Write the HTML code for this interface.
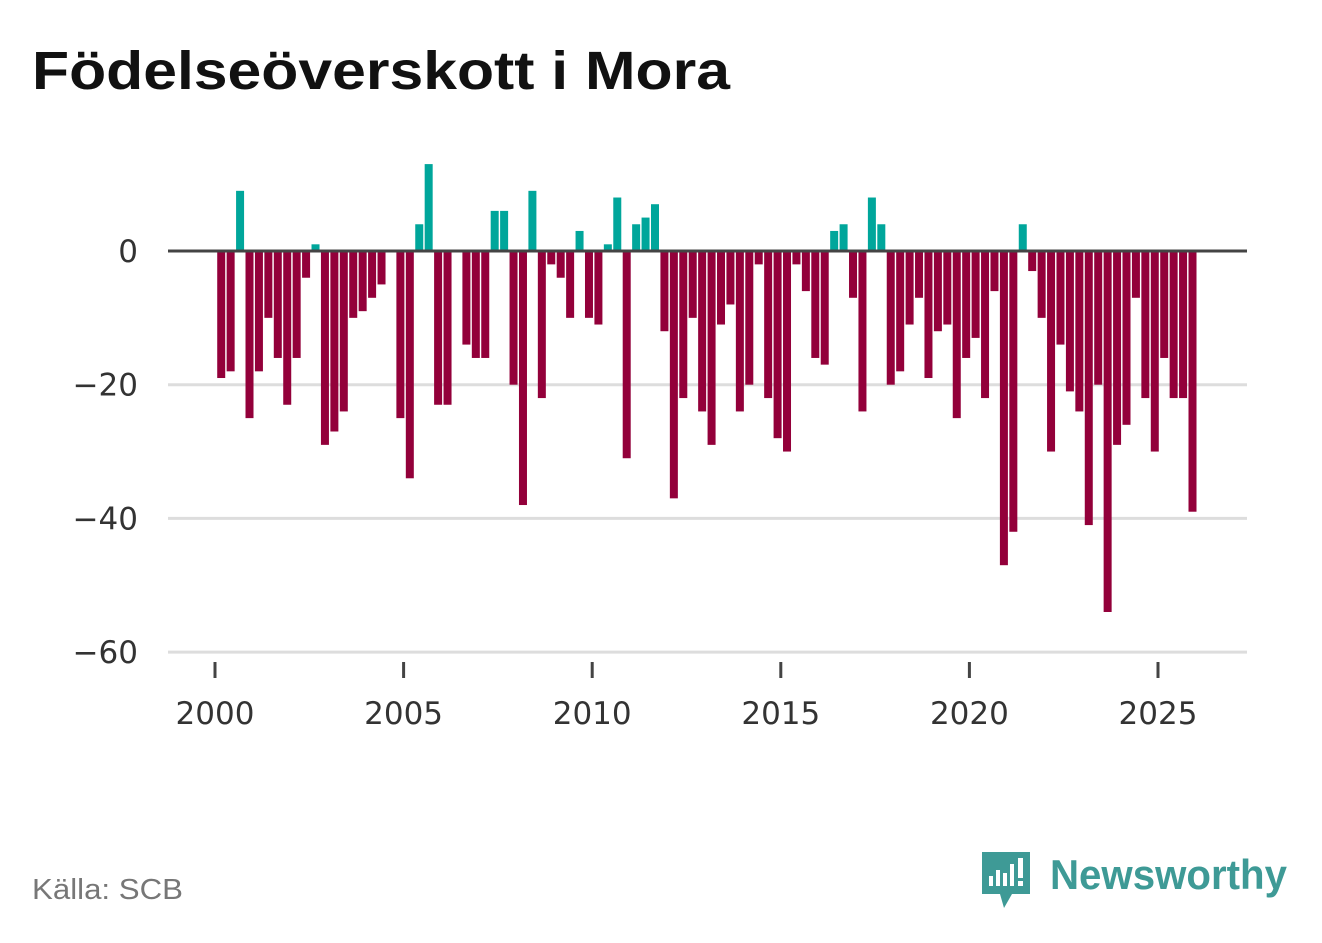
<!DOCTYPE html>
<html><head><meta charset="utf-8"><style>
body{margin:0;background:#fff;width:1322px;height:939px;overflow:hidden;font-family:"DejaVu Sans","Liberation Sans",sans-serif}
</style></head><body>
<svg width="1322" height="939" xmlns="http://www.w3.org/2000/svg">
<text x="32" y="89" font-size="54" font-weight="bold" fill="#111" font-family="Liberation Sans, sans-serif" textLength="698" lengthAdjust="spacingAndGlyphs">Födelseöverskott i Mora</text>
<g id="grid"></g><g id="bars"></g><g id="axes"></g>
<text x="32" y="899" font-size="29" fill="#777" font-family="Liberation Sans, sans-serif" textLength="151" lengthAdjust="spacingAndGlyphs">Källa: SCB</text>
<g>
<path d="M982 852 h48 v42 h-18 l-8 14 l-4 -14 h-18 z" fill="#3e9a96"/>
<rect x="989" y="876" width="4" height="10" fill="#fff"/><rect x="996" y="870" width="4" height="16" fill="#fff"/><rect x="1003" y="873" width="4" height="13" fill="#fff"/><rect x="1010" y="864" width="4" height="22" fill="#fff"/><rect x="1018" y="858" width="5" height="20" fill="#fff"/><rect x="1018" y="881" width="5" height="5" fill="#fff"/>
<text x="1050" y="889" font-size="42" font-weight="bold" fill="#3e9a96" font-family="Liberation Sans, sans-serif" textLength="237" lengthAdjust="spacingAndGlyphs">Newsworthy</text>
</g>
</svg>
<script>
const startYear = 2000;
const values = [-19,-18,9,-25,-18,-10,-16,-23,-16,-4,1,-29,-27,-24,-10,-9,-7,-5,0,-25,-34,4,13,-23,-23,0,-14,-16,-16,6,6,-20,-38,9,-22,-2,-4,-10,3,-10,-11,1,8,-31,4,5,7,-12,-37,-22,-10,-24,-29,-11,-8,-24,-20,-2,-22,-28,-30,-2,-6,-16,-17,3,4,-7,-24,8,4,-20,-18,-11,-7,-19,-12,-11,-25,-16,-13,-22,-6,-47,-42,4,-3,-10,-30,-14,-21,-24,-41,-20,-54,-29,-26,-7,-22,-30,-16,-22,-22,-39];
const yTicks = [0,-20,-40,-60];
const xTicks = [2000,2005,2010,2015,2020,2025];
const NS="http://www.w3.org/2000/svg";
function xs(t){return 215+(t-2000)*37.72;}
function ys(v){return 251-v*6.685;}
function mk(tag,attrs,parent){const e=document.createElementNS(NS,tag);for(const k in attrs)e.setAttribute(k,attrs[k]);document.getElementById(parent).appendChild(e);return e;}
yTicks.forEach(v=>{
  if(v!==0){const l=mk('line',{x1:168,x2:1247,y1:ys(v),y2:ys(v),stroke:'#dddddd','stroke-width':3},'grid');
  
  }
  const t=mk('text',{x:138,y:ys(v)+11,'text-anchor':'end','font-size':31,fill:'#333'},'axes');
  t.textContent=(v<0?'\u2212'+(-v):v);
  
  
});
values.forEach((v,i)=>{
  const c=xs(startYear+(i+0.5)/4)+1.5;
  const y0=ys(0),y1=ys(v);
  const r=mk('rect',{x:c-4,y:Math.min(y0,y1),width:8,height:Math.abs(y1-y0),fill:v>=0?'#00a69b':'#93003a'},'bars');
  
  
});
const z=mk('line',{x1:168,x2:1247,y1:ys(0),y2:ys(0),stroke:'#444','stroke-width':3},'axes');


xTicks.forEach(yr=>{
  const l=mk('line',{x1:xs(yr),x2:xs(yr),y1:662,y2:678,stroke:'#444','stroke-width':3},'axes');
  
  
  const t=mk('text',{x:xs(yr),y:724,'text-anchor':'middle','font-size':31,fill:'#333'},'axes');
  t.textContent=yr;
  
  
});
</script>
</body></html>
